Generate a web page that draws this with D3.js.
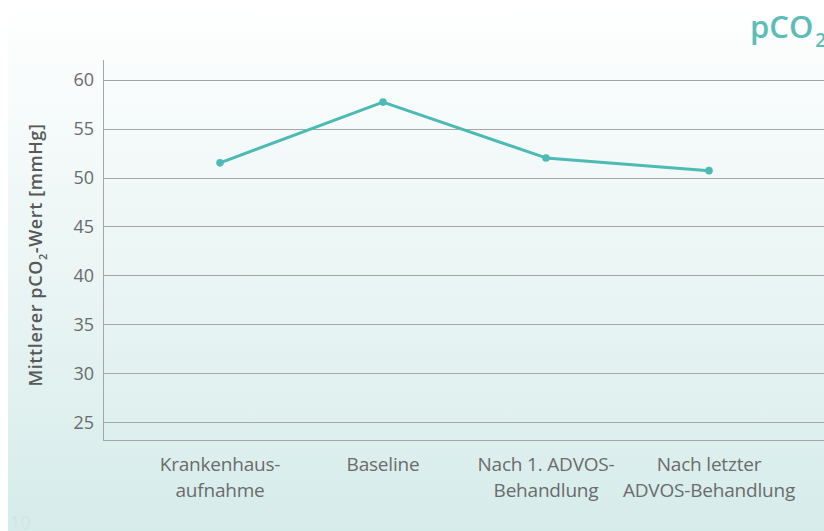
<!DOCTYPE html>
<meta charset="utf-8">
<style>
body { margin: 0; background: #fff; }
svg text { font-family: "Open Sans", "Noto Sans", sans-serif; }
</style>
<body>
<svg width="824" height="531" id="chart"></svg>
<script src="https://cdn.jsdelivr.net/npm/d3@7"></script>
<script>

var categories = [["Krankenhaus-", "aufnahme"], ["Baseline"], ["Nach 1. ADVOS-", "Behandlung"], ["Nach letzter", "ADVOS-Behandlung"]];
var values = [51.5, 57.7, 52.0, 50.7];
var tickValues = [25, 30, 35, 40, 45, 50, 55, 60];

var svg = d3.select("#chart");

// background gradient
var defs = svg.append("defs");
var grad = defs.append("linearGradient").attr("id", "bg")
    .attr("x1", 0).attr("y1", 0).attr("x2", 0).attr("y2", 1);
grad.append("stop").attr("offset", "0%").attr("stop-color", "#ffffff");
grad.append("stop").attr("offset", "100%").attr("stop-color", "#d6ecea");
svg.append("rect").attr("x", 8).attr("y", 0).attr("width", 816).attr("height", 531)
    .attr("fill", "url(#bg)");

var x = d3.scalePoint()
    .domain(d3.range(categories.length))
    .range([220, 709]);

var y = d3.scaleLinear()
    .domain([23.2, 62])
    .range([440, 60]);

// grid
svg.selectAll(".grid")
    .data(tickValues)
  .enter().append("line")
    .attr("x1", 103).attr("x2", 824)
    .attr("y1", function(d) { return Math.round(y(d)) + 0.5; })
    .attr("y2", function(d) { return Math.round(y(d)) + 0.5; })
    .attr("stroke", "#a6a6a6")
    .attr("stroke-width", 1);

// axes lines
svg.append("line").attr("x1", 103.5).attr("x2", 103.5).attr("y1", 60).attr("y2", 440.5)
    .attr("stroke", "#a6a6a6");
svg.append("line").attr("x1", 103).attr("x2", 824).attr("y1", 440.5).attr("y2", 440.5)
    .attr("stroke", "#a6a6a6");

// y tick labels
svg.selectAll(".ytick")
    .data(tickValues)
  .enter().append("text")
    .attr("x", 94)
    .attr("y", function(d) { return y(d); })
    .attr("dy", "0.36em")
    .attr("text-anchor", "end")
    .attr("fill", "#6b6b6b")
    .attr("font-size", 18)
    .text(function(d) { return d; });

// x labels
var xl = svg.selectAll(".xlab")
    .data(categories)
  .enter().append("text")
    .attr("text-anchor", "middle")
    .attr("fill", "#6b6b6b")
    .attr("font-size", 19)
    .attr("letter-spacing", "-0.2px");
xl.selectAll("tspan")
    .data(function(d, i) { return d.map(function(s) { return {s: s, i: i}; }); })
  .enter().append("tspan")
    .attr("x", function(d) { return x(d.i); })
    .attr("y", function(d, j) { return 471 + j * 26; })
    .text(function(d) { return d.s; });

// y title
var yt = svg.append("text")
    .attr("transform", "translate(42,255) rotate(-90)")
    .attr("text-anchor", "middle")
    .attr("fill", "#585858")
    .attr("font-size", 18)
    .attr("font-weight", 600)
    .attr("letter-spacing", "0.6px");
yt.append("tspan").text("Mittlerer pCO");
yt.append("tspan").attr("font-size", 11).attr("dy", 5).text("2");
yt.append("tspan").attr("dy", -5).text("-Wert [mmHg]");

// line
var line = d3.line()
    .x(function(d, i) { return x(i); })
    .y(function(d) { return y(d); });

svg.append("path")
    .datum(values)
    .attr("fill", "none")
    .attr("stroke", "#4dbab4")
    .attr("stroke-width", 3)
    .attr("stroke-linejoin", "round")
    .attr("d", line);

svg.selectAll(".dot")
    .data(values)
  .enter().append("circle")
    .attr("cx", function(d, i) { return x(i); })
    .attr("cy", function(d) { return y(d); })
    .attr("r", 3.8)
    .attr("fill", "#4dbab4");

// title
var tt = svg.append("text")
    .attr("x", 750)
    .attr("y", 38)
    .attr("fill", "#5cbdb6")
    .attr("font-size", 31)
    .attr("font-weight", 600);
tt.append("tspan").text("pCO");
tt.append("tspan").attr("font-size", 19).attr("dx", 2).attr("dy", 9).text("2");

// page number
svg.append("text")
    .attr("x", 10).attr("y", 529)
    .attr("fill", "#cfe6e4")
    .attr("font-size", 18)
    .text("10");

</script>
</body>
